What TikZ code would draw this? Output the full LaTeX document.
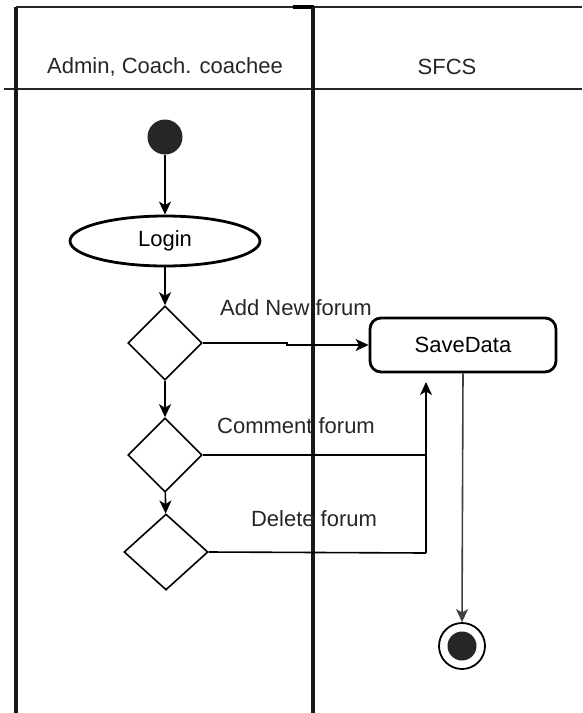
\documentclass[tikz,border=0pt]{standalone}
\usepackage{fontspec}
\setmainfont{Liberation Sans}
\usetikzlibrary{arrows.meta,shapes.geometric}
\begin{document}
\begin{tikzpicture}[x=1pt,y=-1pt,
  lane/.style={line width=3.6pt,black!90},
  hline/.style={line width=1.8pt,black!85},
  flow/.style={line width=1.6pt,-{Stealth[length=13pt,width=12pt,inset=3.5pt]}},
  plain/.style={line width=1.6pt},
  txt/.style={font=\fontsize{22}{26}\selectfont,text=black!85,inner sep=0pt},
  decision/.style={diamond,draw,line width=1.6pt,minimum width=74pt,minimum height=74pt,inner sep=0pt},
  action/.style={draw,line width=2.8pt,rounded corners=11pt,minimum width=186pt,minimum height=54pt,font=\fontsize{22}{26}\selectfont},
  state/.style={ellipse,draw,line width=2.8pt,minimum width=190pt,minimum height=50pt,font=\fontsize{22}{26}\selectfont}
]
\useasboundingbox (0,0) rectangle (582,713);
% swimlanes
\draw[hline] (16,7) -- (582,7);
\draw[line width=3.2pt] (293,7) -- (314,7);
\draw[hline] (4,89) -- (582,89);
\draw[lane] (16,7) -- (16,713);
\draw[lane] (313,7) -- (313,713);
\node[txt] (lane1) at (165,67) {Admin, Coach. coachee};
\node[txt] (lane2) at (447,67) {SFCS};
% nodes
\node[circle,fill=black!85,minimum size=35pt,inner sep=0pt] (start) at (165,137) {};
\node[state] (login) at (165,241) {Login};
\node[decision] (d1) at (165,343) {};
\node[decision] (d2) at (165,455) {};
\node[decision,minimum width=84pt,minimum height=76pt] (d3) at (166,552) {};
\node[action] (save) at (463,345) {SaveData};
\node[circle,draw,line width=1.8pt,minimum size=46pt,inner sep=0pt] (end) at (462,646) {};
\node[circle,fill=black!85,minimum size=29pt,inner sep=0pt] (endin) at (end.center) {};
% labels
\node[txt] (l1) at (296,308) {Add New forum};
\node[txt] (l2) at (296,426) {Comment forum};
\node[txt] (l3) at (314,519) {Delete forum};
% connectors
\coordinate (j1) at (287,343);
\coordinate (j2) at (287,345);
\coordinate (c2) at (426,455);
\coordinate (c3) at (426,553);
\coordinate (up) at (426,382);
\draw[flow] (start) -- (login);
\draw[flow] (login) -- (d1);
\draw[flow] (d1) -- (d2);
\draw[flow] (d2) -- (d3);
\draw[flow] (d1.east) -- (j1) -- (j2) -- (save.west);
\draw[plain] (d2.east) -- (c2);
\draw[plain] (d3.east) -- (c3);
\draw[flow] (c3) -- (up);
\draw[flow,black!75] (save.south) -- (end.north);
\end{tikzpicture}
\end{document}
